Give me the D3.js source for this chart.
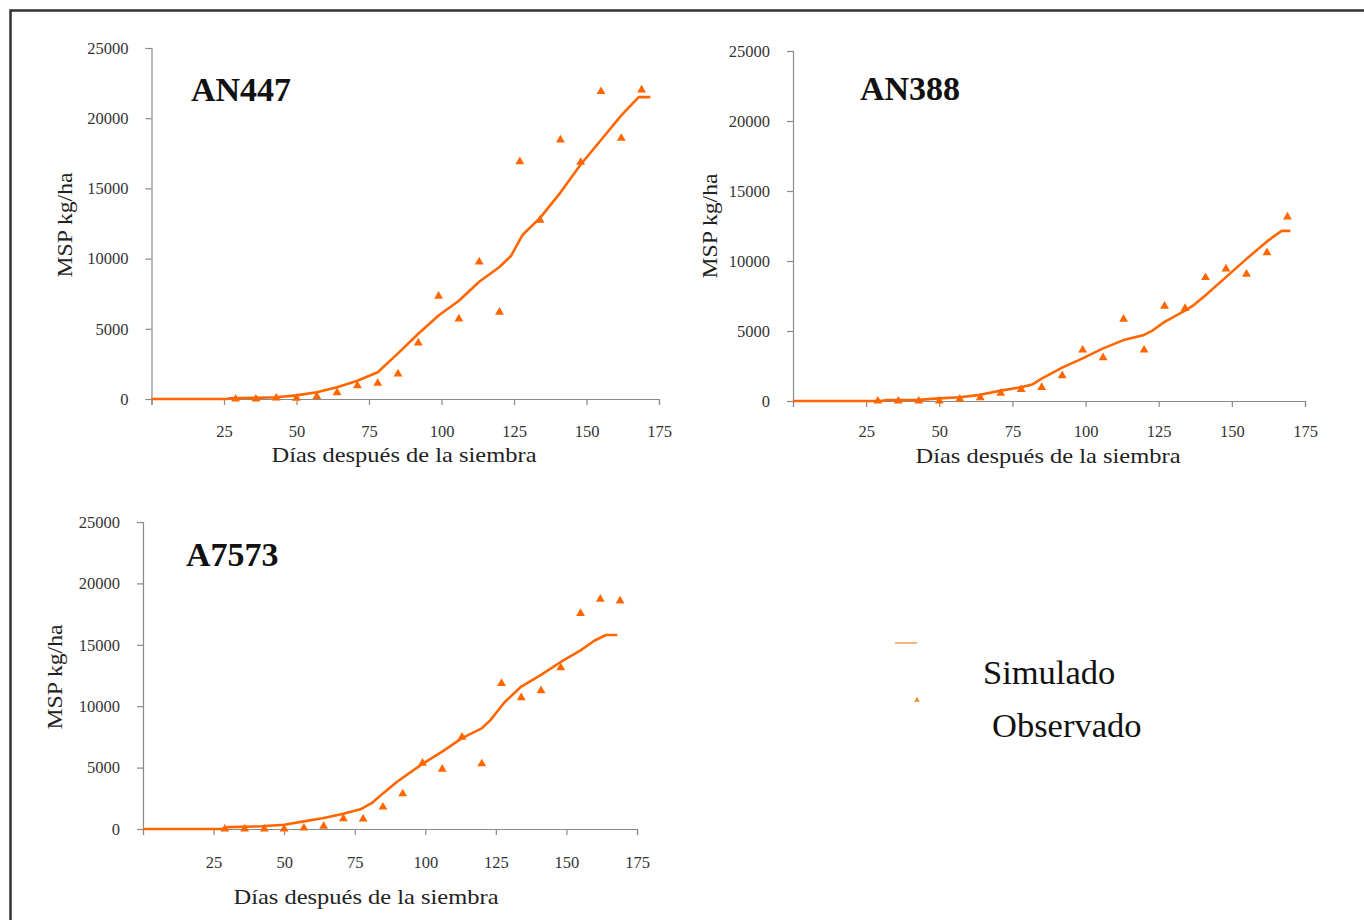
<!DOCTYPE html>
<html>
<head>
<meta charset="utf-8">
<script src="https://cdn.jsdelivr.net/npm/d3@7"></script>
<style>
  body { margin: 0; background: #fff; }
  text { font-family: "Liberation Serif", "DejaVu Serif", serif; }
</style>
</head>
<body>
<svg id="chart"></svg>
<script>
// Datos
const yTicks = [0, 5000, 10000, 15000, 20000, 25000];
const xTicks = [0, 25, 50, 75, 100, 125, 150, 175];
const obsDays = [29, 36, 43, 50, 57, 64, 71, 78, 85, 92, 99, 106, 113, 120, 127, 134, 141, 148, 155, 162, 169];

// AN447
const an447SimDays = [0, 26, 27, 36, 43, 50, 57, 64, 71, 78, 85, 92, 99, 106, 113, 120, 124, 128, 134, 141, 148, 155, 162, 168, 172];
const an447Sim = [0, 0, 50, 80, 120, 260, 480, 830, 1300, 1900, 3250, 4650, 5950, 7000, 8350, 9400, 10200, 11700, 12900, 14700, 16700, 18450, 20200, 21500, 21500];
const an447Obs = [0, 0, 70, 50, 190, 450, 950, 1120, 1790, 4000, 7330, 5710, 9760, 6190, 16900, 12740, 18450, 16860, 21900, 18570, 22020];

// AN388
const an388SimDays = [0, 30, 32, 43, 50, 57, 64, 71, 78, 82, 85, 92, 99, 106, 113, 120, 123, 127, 134, 137, 141, 148, 155, 162, 167, 170];
const an388Sim = [0, 0, 70, 80, 190, 270, 440, 740, 980, 1200, 1600, 2380, 3040, 3760, 4350, 4720, 5050, 5650, 6450, 6850, 7550, 8850, 10150, 11400, 12150, 12150];
const an388Obs = [0, 0, 0, 0, 140, 240, 550, 830, 975, 1810, 3640, 3090, 5850, 3640, 6780, 6610, 8820, 9440, 9060, 10590, 13150];

// A7573
const a7573SimDays = [0, 29, 30, 42, 50, 57, 64, 71, 77, 81, 85, 90, 99, 106, 113, 120, 123, 128, 134, 141, 148, 155, 160, 164, 168];
const a7573Sim = [0, 0, 150, 220, 350, 620, 900, 1250, 1600, 2100, 2900, 3850, 5300, 6300, 7400, 8200, 8850, 10300, 11600, 12550, 13600, 14550, 15350, 15800, 15800];
const a7573Obs = [0, 0, 0, 0, 80, 220, 840, 810, 1790, 2870, 5360, 4880, 7480, 5310, 11860, 10700, 11270, 13140, 17550, 18720, 18580];

const legendLabels = ["Simulado", "Observado"];

const width = 1364;
const height = 920;
const orange = "#ff6600";

const svg = d3.select("#chart")
    .attr("width", width)
    .attr("height", height);

svg.append("rect").attr("width", width).attr("height", height).attr("fill", "#fff");

// Marco exterior
svg.append("path")
    .attr("d", `M10.5,${height} L10.5,10.5 L${width},10.5`)
    .attr("fill", "none")
    .attr("stroke", "#333")
    .attr("stroke-width", 2.5);

function drawPanel(p) {
    const xScale = d3.scaleLinear().domain([0, 175]).range([p.x0, p.x1]);
    const yScale = d3.scaleLinear().domain([0, 25000]).range([p.y0, p.y1]);
    const g = svg.append("g");

    const yAxis = d3.axisLeft(yScale)
        .tickValues(yTicks)
        .tickSize(6)
        .tickPadding(17)
        .tickFormat(d3.format("d"));
    const xAxis = d3.axisBottom(xScale)
        .tickValues(xTicks)
        .tickSize(6)
        .tickPadding(p.xPad)
        .tickFormat(d => d === 0 ? "" : d);

    [[yAxis, `translate(${p.x0},0)`], [xAxis, `translate(0,${p.y0})`]].forEach(([ax, tr]) => {
        const a = g.append("g").attr("transform", tr).call(ax);
        a.select(".domain").attr("stroke", "#8a8a8a").attr("stroke-width", 1.2);
        a.selectAll(".tick line").attr("stroke", "#8a8a8a").attr("stroke-width", 1.2);
        a.selectAll(".tick text")
            .attr("font-family", "Liberation Serif")
            .attr("font-size", 16.5)
            .attr("fill", "#333");
    });

    // Linea simulada
    const simData = p.simDays.map((d, i) => [d, p.sim[i]]);
    g.append("path")
        .datum(simData)
        .attr("fill", "none")
        .attr("stroke", orange)
        .attr("stroke-width", 2.6)
        .attr("stroke-linejoin", "round")
        .attr("d", d3.line().x(d => xScale(d[0])).y(d => yScale(d[1])));

    // Puntos observados
    const obsData = obsDays.map((d, i) => [d, p.obs[i]]);
    g.selectAll(".obs")
        .data(obsData)
        .enter()
        .append("path")
        .attr("class", "obs")
        .attr("transform", d => `translate(${xScale(d[0])},${yScale(d[1])})`)
        .attr("d", d3.symbol(d3.symbolTriangle, 34))
        .attr("fill", orange);

    // Titulos
    g.append("text")
        .attr("x", p.titleX)
        .attr("y", p.titleY)
        .attr("font-size", 34)
        .attr("font-weight", "bold")
        .attr("fill", "#111")
        .text(p.name);

    g.append("text")
        .attr("x", p.xTitleX)
        .attr("y", p.xTitleY)
        .attr("text-anchor", "middle")
        .attr("font-size", 21)
        .attr("fill", "#222")
        .attr("textLength", 265)
        .attr("lengthAdjust", "spacingAndGlyphs")
        .text("Días después de la siembra");

    g.append("text")
        .attr("transform", `translate(${p.yTitleX},${p.yTitleY}) rotate(-90)`)
        .attr("text-anchor", "middle")
        .attr("font-size", 22)
        .attr("fill", "#222")
        .attr("textLength", 105)
        .attr("lengthAdjust", "spacingAndGlyphs")
        .text("MSP kg/ha");
}

drawPanel({ name: "AN447", x0: 151.5, x1: 659, y0: 399, y1: 48, xPad: 20,
    simDays: an447SimDays, sim: an447Sim, obs: an447Obs,
    titleX: 191, titleY: 101, xTitleX: 404, xTitleY: 462, yTitleX: 72, yTitleY: 225 });
drawPanel({ name: "AN388", x0: 793, x1: 1305, y0: 401, y1: 51, xPad: 18,
    simDays: an388SimDays, sim: an388Sim, obs: an388Obs,
    titleX: 860, titleY: 100, xTitleX: 1048, xTitleY: 463, yTitleX: 717, yTitleY: 226 });
drawPanel({ name: "A7573", x0: 143, x1: 637, y0: 829, y1: 522, xPad: 21,
    simDays: a7573SimDays, sim: a7573Sim, obs: a7573Obs,
    titleX: 186, titleY: 566, xTitleX: 366, xTitleY: 904, yTitleX: 62, yTitleY: 677 });

// Leyenda
const legend = svg.append("g");
legend.append("line")
    .attr("x1", 895).attr("x2", 917)
    .attr("y1", 643).attr("y2", 643)
    .attr("stroke", "#f7a35c")
    .attr("stroke-width", 1.6);
legend.append("path")
    .attr("transform", "translate(917,700)")
    .attr("d", d3.symbol(d3.symbolTriangle, 14))
    .attr("fill", "#f58a2a");
legend.selectAll(".lg")
    .data(legendLabels)
    .enter()
    .append("text")
    .attr("class", "lg")
    .attr("x", (d, i) => i === 0 ? 983 : 992)
    .attr("y", (d, i) => i === 0 ? 684 : 737)
    .attr("font-size", 34.5)
    .attr("fill", "#111")
    .text(d => d);
</script>
</body>
</html>
